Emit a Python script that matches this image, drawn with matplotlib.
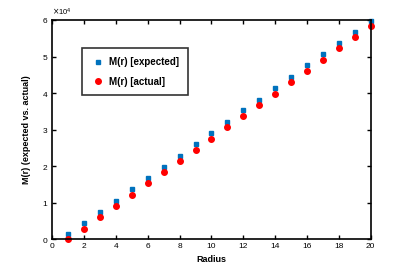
import matplotlib
matplotlib.use('Agg')
import matplotlib.pyplot as plt
import numpy as np

radius = list(range(1, 21))
m_expected = [1370, 4460, 7470, 10570, 13760, 16680, 19780, 22790, 26000, 29170,
              32170, 35380, 38200, 41400, 44500, 47600, 50700, 53800, 56700, 59800]
m_actual = [0, 2900, 6100, 9000, 12100, 15300, 18300, 21400, 24400, 27500,
            30600, 33700, 36800, 39800, 43000, 46000, 49000, 52200, 55300, 58400]

plt.rcParams['font.family'] = ['Liberation Sans', 'DejaVu Sans']

fig = plt.figure(figsize=(4.09, 2.70), dpi=100)
ax = fig.add_axes([0.128, 0.114, 0.778, 0.812])

ax.plot(radius, m_expected, 's', color='#0072BD', markersize=3.4,
        label='M(r) [expected]', clip_on=False)
ax.plot(radius, m_actual, 'o', color='#FF0000', markersize=4.0,
        label='M(r) [actual]', clip_on=False)

ax.set_xlim(0, 20)
ax.set_ylim(0, 60000)
ax.set_xticks(np.arange(0, 21, 2))
ax.set_yticks(np.arange(0, 60001, 10000))
ax.ticklabel_format(axis='y', style='sci', scilimits=(4, 4), useMathText=True)
ax.yaxis.get_offset_text().set_fontsize(5.5)

ax.tick_params(direction='in', top=True, right=True, labelsize=6,
               length=3, width=1, pad=3)
for s in ax.spines.values():
    s.set_linewidth(1.2)

ax.set_xlabel('Radius', fontsize=6.5, fontweight='bold', labelpad=3)
ax.set_ylabel('M(r) (expected vs. actual)', fontsize=6.5, fontweight='bold',
              labelpad=8)

leg = ax.legend(loc='upper left', bbox_to_anchor=(0.092, 0.871),
                borderaxespad=0, fancybox=False, edgecolor='black',
                prop={'size': 7, 'weight': 'bold'}, handletextpad=0.4,
                borderpad=0.9, labelspacing=1.0, handlelength=1.5)
leg.get_frame().set_linewidth(1.2)

fig.savefig('out.png', dpi=100)
